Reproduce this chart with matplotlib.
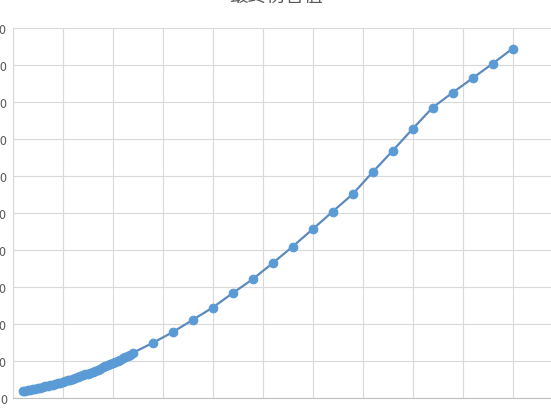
import matplotlib
matplotlib.use("Agg")
import matplotlib.pyplot as plt

plt.rcParams['font.family'] = ['Noto Sans CJK SC', 'DejaVu Sans']

title_text = "最终伤害值"

x_values = [40, 50, 60, 70, 80, 90, 100, 110, 120, 130, 140, 150, 160, 170, 180,
            190, 200, 210, 220, 230, 240, 250, 260, 270, 280, 290, 300, 310, 320,
            330, 340, 350, 360, 370, 380, 390, 400, 410, 420, 430, 440, 450, 460,
            470, 480,
            560, 640, 720, 800, 880, 960, 1040, 1120, 1200, 1280, 1360, 1440,
            1520, 1600, 1680, 1760, 1840, 1920, 2000]
damage = [19.0, 20.1, 21.3, 22.5, 23.8, 25.2, 26.6, 28.0, 29.5, 31.1, 32.7, 34.4,
          36.1, 37.9, 39.8, 41.7, 43.6, 45.6, 47.7, 49.8, 52.0, 54.2, 56.5, 58.9,
          61.3, 63.7, 66.2, 68.8, 71.4, 74.1, 76.8, 79.6, 82.5, 85.4, 88.3, 91.3,
          94.4, 97.5, 100.7, 103.9, 107.2, 110.6, 114.0, 117.4, 121.5,
          148.6, 177.6, 210.8, 244.1, 283.0, 320.8, 364.1, 408.9, 455.9, 503.5,
          550.5, 610.0, 667.6, 727.0, 784.6, 825.1, 864.1, 903.5, 944.1]

x_ticks = [0, 200, 400, 600, 800, 1000, 1200, 1400, 1600, 1800, 2000, 2200]
y_ticks = [0, 100, 200, 300, 400, 500, 600, 700, 800, 900, 1000]

W, H = 551, 410
fig = plt.figure(figsize=(W / 100, H / 100), dpi=100)
left_px, right_px, top_px, bottom_px = 12.5, 562.5, 29, 399
ax = fig.add_axes([left_px / W, (H - bottom_px) / H,
                   (right_px - left_px) / W, (bottom_px - top_px) / H])

ax.plot(x_values, damage, color='#5B8AC0', linewidth=1.6, marker='o',
        markersize=6.2, markerfacecolor='#5B9BD5', markeredgecolor='#5B9BD5',
        markeredgewidth=0.8, zorder=3)

ax.set_xlim(0, 2200)
ax.set_ylim(0, 1000)
ax.set_xticks(x_ticks)
ax.set_yticks(y_ticks)
ax.grid(True, color='#D9D9D9', linewidth=0.8)
ax.set_axisbelow(True)
for s in ['top', 'right']:
    ax.spines[s].set_visible(False)
ax.spines['left'].set_color('#D9D9D9')
ax.spines['bottom'].set_color('#BFBFBF')
ax.spines['left'].set_linewidth(0.8)
ax.spines['bottom'].set_linewidth(0.8)
ax.tick_params(axis='both', length=0, labelsize=9, colors='#595959')
ax.tick_params(axis='x', pad=6.5)
ax.tick_params(axis='y', pad=4)

fig.text(276 / W, (H - 8) / H, title_text, ha='center', va='bottom',
         fontsize=13.5, color='#595959')

fig.savefig('out.png', dpi=100)
